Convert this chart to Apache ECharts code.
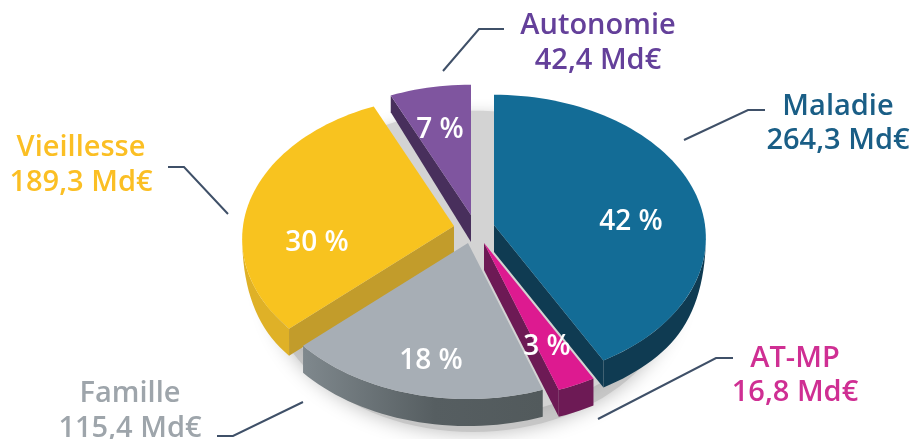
<!DOCTYPE html>
<html>
<head>
<meta charset="utf-8">
<style>
  html, body { margin: 0; padding: 0; background: #fff; }
  #chart { width: 913px; height: 439px; }
</style>
<script src="https://cdn.jsdelivr.net/npm/echarts@6/dist/echarts.min.js"></script>
</head>
<body>
<div id="chart"></div>
<script>
// values
var names = ['Maladie', 'AT-MP', 'Famille', 'Vieillesse', 'Autonomie'];
var amounts = [264.3, 16.8, 115.4, 189.3, 42.4];
var percents = [42, 3, 18, 30, 7];

// look of each slice
var topColors = ['#136c96', '#dd1a90', '#a7aeb5', '#f8c31f', '#7f559f'];
var wallColors = ['#0f3b52', '#6d1a55', '#5a6266', '#c29c2b', '#482f5c'];
var rimColors = ['#0f3b52', '#6d1a55', '#5a6266', '#dfb127', '#482f5c'];
var labelColors = ['#1a5e86', '#cf2f93', '#9ea5ab', '#fbbf24', '#64409a'];

// layout, pixels
var centerX = 475, centerY = 230;
var radiusX = 211, radiusY = 142, perspective = 0.09, depth = 27;
var shifts = [[19, -5], [9, 13], [-7, 13], [-21, -4], [-4, -15]];
var drawOrder = [2, 4, 3, 1, 0];
var percentPos = [[631, 222], [547, 347], [431, 361], [317, 243], [440, 130]];
var labelPos = [[838, 107, 141], [795, 359, 393], [130, 394, 429], [81, 148, 183], [598, 26, 61]];
var leaders = [
  [[684, 140], [748, 110], [765, 110]],
  [[598, 419], [716, 358], [733, 358]],
  [[303, 402], [233, 436], [217, 436]],
  [[228, 214], [184, 167], [168, 167]],
  [[443, 71], [479, 29], [504, 29]]
];

var total = amounts.reduce(function (a, b) { return a + b; }, 0);
var fontFamily = '"Open Sans", sans-serif';

// angle is clockwise from 12 o'clock, in degrees
function project(angle, ox, oy, scaleR, scaleY) {
  var r = angle * Math.PI / 180;
  var k = scaleR === undefined ? 1 : scaleR;
  var u = Math.sin(r) * k;
  var v = -Math.cos(r) * k;
  var s = 1 / (1 - perspective * v);
  // rim gets thin toward the sides of the pie
  var t = Math.min(1, Math.max(0, (v - 0.12) / 0.55));
  return {
    x: ox + radiusX * u * s,
    y: oy + radiusY * (scaleY || 1) * v * s,
    drop: v < 0 ? depth + 11 * v : depth,
    rimDrop: depth * (1 - (1 - t) * (1 - t))
  };
}

function arcPoints(from, to, ox, oy) {
  var pts = [];
  var steps = Math.max(2, Math.ceil((to - from) / 2));
  for (var i = 0; i <= steps; i++) {
    pts.push(project(from + (to - from) * i / steps, ox, oy));
  }
  return pts;
}

function xy(p) { return [p.x, p.y]; }
function xyDown(p) { return [p.x, p.y + p.drop]; }
function xyRim(p) { return [p.x, p.y + p.rimDrop]; }

function renderSlice(params, api) {
  var i = params.dataIndex;
  var before = 0;
  for (var k = 0; k < i; k++) before += amounts[k];
  var start = before / total * 360;
  var end = (before + api.value(1)) / total * 360;
  var ox = centerX + shifts[i][0];
  var oy = centerY + shifts[i][1];
  var z = drawOrder[i] * 10 + 10;
  var apex = { x: ox, y: oy, drop: depth };
  var children = [];

  function wall(points, fill, zz) {
    children.push({ type: 'polygon', shape: { points: points }, style: { fill: fill }, z2: zz });
  }

  // cut faces toward the viewer
  if (end > 0 && end < 180) {
    var e = project(end, ox, oy);
    wall([xy(apex), xy(e), xyDown(e), xyDown(apex)], wallColors[i], z);
  }
  if (start > 180 && start < 360) {
    var b = project(start, ox, oy);
    wall([xy(apex), xy(b), xyDown(b), xyDown(apex)], wallColors[i], z);
  }

  // outer rim
  var rimFrom = Math.max(start, 80), rimTo = Math.min(end, 280);
  if (rimTo > rimFrom) {
    var rim = arcPoints(rimFrom, rimTo, ox, oy);
    var rimFill = rimColors[i];
    if (names[i] === 'Famille') {
      rimFill = {
        type: 'linear', x: 0, y: 0, x2: 1, y2: 0,
        colorStops: [{ offset: 0, color: '#7f888d' }, { offset: 0.55, color: '#565e61' }, { offset: 1, color: '#525a5c' }]
      };
    }
    wall(rim.map(xy).concat(rim.slice().reverse().map(xyRim)), rimFill, z);
  }

  // top face
  var top = [xy(apex)].concat(arcPoints(start, end, ox, oy).map(xy));
  children.push({ type: 'polygon', shape: { points: top }, style: { fill: topColors[i] }, z2: z + 1 });

  // percent on the slice
  children.push({
    type: 'text', z2: 100,
    style: {
      x: percentPos[i][0], y: percentPos[i][1], text: api.value(2) + ' %',
      fill: '#fff', font: '600 28px ' + fontFamily, align: 'center', verticalAlign: 'middle'
    }
  });

  // outside label
  var lp = labelPos[i];
  var lbl = [names[i], String(api.value(1)).replace('.', ',') + ' Md€'];
  lbl.forEach(function (t, n) {
    children.push({
      type: 'text', z2: 100,
      style: {
        x: lp[0], y: lp[n + 1], text: t,
        fill: labelColors[i], font: '600 29px ' + fontFamily, align: 'center', verticalAlign: 'middle'
      }
    });
  });

  // leader line
  children.push({
    type: 'polyline', z2: 100,
    shape: { points: leaders[i] },
    style: { fill: null, stroke: '#3f5068', lineWidth: 2 }
  });

  return { type: 'group', children: children };
}

function shadowPoints(dy, scaleR) {
  var pts = [];
  for (var a = 0; a < 360; a += 3) {
    var p = project(a, centerX - 2, centerY + dy, scaleR, 1.1);
    pts.push([p.x, p.y]);
  }
  return pts;
}

// grey floor under the pie, with a soft edge toward the front
function renderShadow() {
  return {
    type: 'group',
    children: [
      {
        type: 'polygon', z2: 0,
        shape: { points: shadowPoints(36, 0.97) },
        style: { fill: '#c6c6c6', shadowBlur: 20, shadowColor: 'rgba(0,0,0,0.28)' }
      },
      {
        type: 'polygon', z2: 1,
        shape: { points: shadowPoints(20, 0.97) },
        style: { fill: '#d3d3d3', shadowBlur: 14, shadowColor: 'rgba(0,0,0,0.12)' }
      }
    ]
  };
}

var chart = echarts.init(document.getElementById('chart'), null, { renderer: 'canvas' });
chart.setOption({
  animation: false,
  backgroundColor: '#fff',
  series: [
    {
      type: 'custom', coordinateSystem: 'none', silent: true, z: 1,
      renderItem: renderShadow, data: [0]
    },
    {
      type: 'custom', coordinateSystem: 'none', silent: true, z: 2,
      renderItem: renderSlice,
      data: names.map(function (n, i) { return [i, amounts[i], percents[i]]; })
    }
  ]
});
</script>
</body>
</html>
